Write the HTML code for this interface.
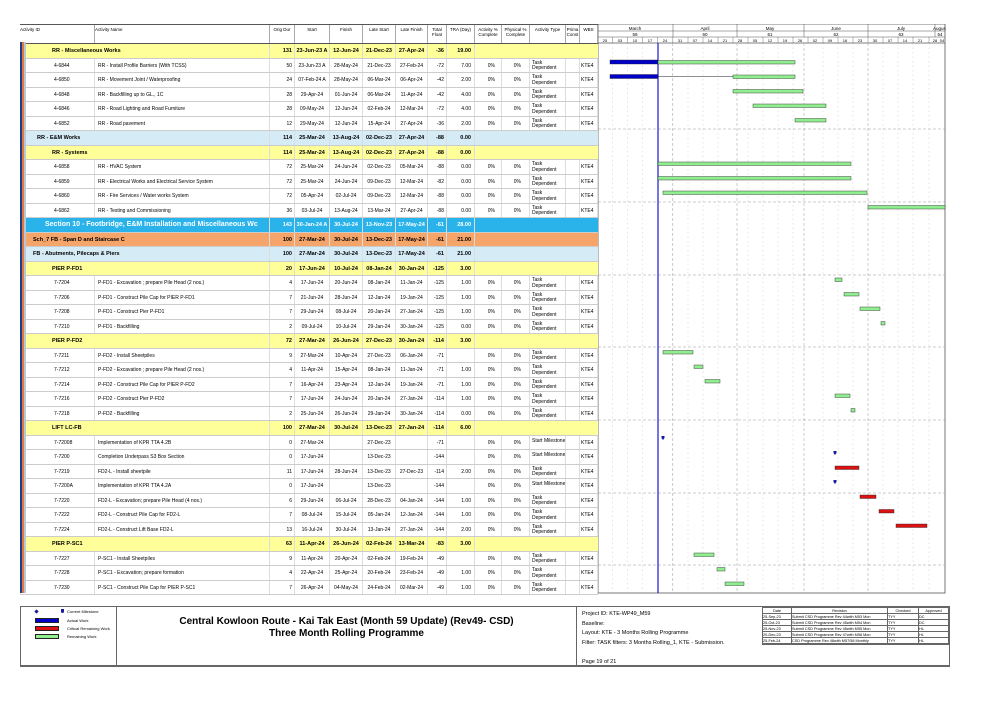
<!DOCTYPE html>
<html><head><meta charset="utf-8">
<style>
body{margin:0;background:#fff;width:1001px;height:708px;position:relative;overflow:hidden;font-family:"Liberation Sans",Arial,sans-serif;color:#000}
#tbl{position:absolute;left:20px;top:24px;width:578px}
.hd{height:18px;display:flex;border-top:1px solid #555;border-bottom:1px solid #555;background:#fff}
.hd span{font-size:4.5px;line-height:5px;padding-top:2px;text-align:center;border-right:1px solid #aaa;box-sizing:border-box;overflow:hidden}
.r{height:14.5px;display:flex;box-sizing:border-box;border-bottom:1px solid #ccc;font-size:5px;line-height:14px;white-space:nowrap}
.r span{box-sizing:border-box;overflow:hidden;border-right:1px solid #ddd}
.c1{width:75px;padding-left:34px}.c2{width:175px;padding-left:3px}.c3{width:25px;text-align:right;padding-right:2px}
.c4{width:35px;text-align:center}.c5{width:33px;text-align:center}.c6{width:33px;text-align:center}.c7{width:32px;text-align:center}
.c8{width:19px;text-align:right;padding-right:2px}.c9{width:28px;text-align:right;padding-right:3px}.c10{width:27px;text-align:right;padding-right:6px}
.c11{width:28px;text-align:right;padding-right:8px}.r .c12{width:36px;line-height:5.5px;padding-top:2px;padding-left:2px;white-space:normal}.r .c12.m{white-space:nowrap;line-height:10px;padding-top:0}.c13{width:14px}.c14{width:18px;padding-left:1px}
.g{font-weight:bold;font-size:5.5px}
.g .c1{padding-left:32px;width:250px;overflow:visible}
.y{background:#ffff99}.b{background:#d5ebf6}.o{background:#f6a56a}.s{background:#29b3ea;color:#fff}
.s .c1{font-size:7px}
#gan{position:absolute;left:598px;top:24px}
#foot{position:absolute;left:20px;top:606px;width:928px;height:58px;border:1px solid #666;border-bottom:2px solid #666}
.st{position:absolute;top:42px;width:2px;height:551px;z-index:5}
</style></head><body>
<div id="tbl">
<div class="hd"><span style="width:75px;text-align:left">Activity ID</span><span style="width:175px;text-align:left">Activity Name</span><span style="width:25px">Orig Dur</span><span style="width:35px">Start</span><span style="width:33px">Finish</span><span style="width:33px">Late Start</span><span style="width:32px">Late Finish</span><span style="width:19px">Total Float</span><span style="width:28px">TRA (Day)</span><span style="width:27px">Activity % Complete</span><span style="width:28px">Physical % Complete</span><span style="width:36px">Activity Type</span><span style="width:14px">Prima Const</span><span style="width:18px">WBS</span></div>

<div class="r g y"><span class="c1">RR - Miscellaneous Works</span><span class="c3">131</span><span class="c4">23-Jun-23 A</span><span class="c5">12-Jun-24</span><span class="c6">21-Dec-23</span><span class="c7">27-Apr-24</span><span class="c8">-36</span><span class="c9">19.00</span></div>
<div class="r"><span class="c1">4-6844</span><span class="c2">RR - Install Profile Barriers (With TCSS)</span><span class="c3">50</span><span class="c4">23-Jun-23 A</span><span class="c5">28-May-24</span><span class="c6">21-Dec-23</span><span class="c7">27-Feb-24</span><span class="c8">-72</span><span class="c9">7.00</span><span class="c10">0%</span><span class="c11">0%</span><span class="c12">Task Dependent</span><span class="c13"></span><span class="c14">KTE4</span></div>
<div class="r"><span class="c1">4-6850</span><span class="c2">RR - Movement Joint / Waterproofing</span><span class="c3">24</span><span class="c4">07-Feb-24 A</span><span class="c5">28-May-24</span><span class="c6">06-Mar-24</span><span class="c7">06-Apr-24</span><span class="c8">-42</span><span class="c9">2.00</span><span class="c10">0%</span><span class="c11">0%</span><span class="c12">Task Dependent</span><span class="c13"></span><span class="c14">KTE4</span></div>
<div class="r"><span class="c1">4-6848</span><span class="c2">RR - Backfilling up to GL., 1C</span><span class="c3">28</span><span class="c4">29-Apr-24</span><span class="c5">01-Jun-24</span><span class="c6">06-Mar-24</span><span class="c7">11-Apr-24</span><span class="c8">-42</span><span class="c9">4.00</span><span class="c10">0%</span><span class="c11">0%</span><span class="c12">Task Dependent</span><span class="c13"></span><span class="c14">KTE4</span></div>
<div class="r"><span class="c1">4-6846</span><span class="c2">RR - Road Lighting and Road Furniture</span><span class="c3">28</span><span class="c4">09-May-24</span><span class="c5">12-Jun-24</span><span class="c6">02-Feb-24</span><span class="c7">12-Mar-24</span><span class="c8">-72</span><span class="c9">4.00</span><span class="c10">0%</span><span class="c11">0%</span><span class="c12">Task Dependent</span><span class="c13"></span><span class="c14">KTE4</span></div>
<div class="r"><span class="c1">4-6852</span><span class="c2">RR - Road pavement</span><span class="c3">12</span><span class="c4">29-May-24</span><span class="c5">12-Jun-24</span><span class="c6">15-Apr-24</span><span class="c7">27-Apr-24</span><span class="c8">-36</span><span class="c9">2.00</span><span class="c10">0%</span><span class="c11">0%</span><span class="c12">Task Dependent</span><span class="c13"></span><span class="c14">KTE4</span></div>
<div class="r g b"><span class="c1" style="padding-left:17px">RR - E&amp;M Works</span><span class="c3">114</span><span class="c4">25-Mar-24</span><span class="c5">13-Aug-24</span><span class="c6">02-Dec-23</span><span class="c7">27-Apr-24</span><span class="c8">-88</span><span class="c9">0.00</span></div>
<div class="r g y"><span class="c1">RR - Systems</span><span class="c3">114</span><span class="c4">25-Mar-24</span><span class="c5">13-Aug-24</span><span class="c6">02-Dec-23</span><span class="c7">27-Apr-24</span><span class="c8">-88</span><span class="c9">0.00</span></div>
<div class="r"><span class="c1">4-6858</span><span class="c2">RR - HVAC System</span><span class="c3">72</span><span class="c4">25-Mar-24</span><span class="c5">24-Jun-24</span><span class="c6">02-Dec-23</span><span class="c7">05-Mar-24</span><span class="c8">-88</span><span class="c9">0.00</span><span class="c10">0%</span><span class="c11">0%</span><span class="c12">Task Dependent</span><span class="c13"></span><span class="c14">KTE4</span></div>
<div class="r"><span class="c1">4-6859</span><span class="c2">RR - Electrical Works and Electrical Service System</span><span class="c3">72</span><span class="c4">25-Mar-24</span><span class="c5">24-Jun-24</span><span class="c6">09-Dec-23</span><span class="c7">12-Mar-24</span><span class="c8">-82</span><span class="c9">0.00</span><span class="c10">0%</span><span class="c11">0%</span><span class="c12">Task Dependent</span><span class="c13"></span><span class="c14">KTE4</span></div>
<div class="r"><span class="c1">4-6860</span><span class="c2">RR - Fire Services / Water works System</span><span class="c3">72</span><span class="c4">05-Apr-24</span><span class="c5">02-Jul-24</span><span class="c6">09-Dec-23</span><span class="c7">12-Mar-24</span><span class="c8">-88</span><span class="c9">0.00</span><span class="c10">0%</span><span class="c11">0%</span><span class="c12">Task Dependent</span><span class="c13"></span><span class="c14">KTE4</span></div>
<div class="r"><span class="c1">4-6862</span><span class="c2">RR - Testing and Commissioning</span><span class="c3">36</span><span class="c4">03-Jul-24</span><span class="c5">13-Aug-24</span><span class="c6">13-Mar-24</span><span class="c7">27-Apr-24</span><span class="c8">-88</span><span class="c9">0.00</span><span class="c10">0%</span><span class="c11">0%</span><span class="c12">Task Dependent</span><span class="c13"></span><span class="c14">KTE4</span></div>
<div class="r g s"><span class="c1" style="padding-left:25px">Section 10 - Footbridge, E&amp;M Installation and Miscellaneous Wc</span><span class="c3">143</span><span class="c4">30-Jan-24 A</span><span class="c5">30-Jul-24</span><span class="c6">13-Nov-23</span><span class="c7">17-May-24</span><span class="c8">-61</span><span class="c9">28.00</span></div>
<div class="r g o"><span class="c1" style="padding-left:13px">Sch_7 FB - Span D and Staircase C</span><span class="c3">100</span><span class="c4">27-Mar-24</span><span class="c5">30-Jul-24</span><span class="c6">13-Dec-23</span><span class="c7">17-May-24</span><span class="c8">-61</span><span class="c9">21.00</span></div>
<div class="r g b"><span class="c1" style="padding-left:13px">FB - Abutments, Pilecaps &amp; Piers</span><span class="c3">100</span><span class="c4">27-Mar-24</span><span class="c5">30-Jul-24</span><span class="c6">13-Dec-23</span><span class="c7">17-May-24</span><span class="c8">-61</span><span class="c9">21.00</span></div>
<div class="r g y"><span class="c1">PIER P-FD1</span><span class="c3">20</span><span class="c4">17-Jun-24</span><span class="c5">10-Jul-24</span><span class="c6">08-Jan-24</span><span class="c7">30-Jan-24</span><span class="c8">-125</span><span class="c9">3.00</span></div>
<div class="r"><span class="c1">7-7204</span><span class="c2">P-FD1 - Excavation ; prepare Pile Head (2 nos.)</span><span class="c3">4</span><span class="c4">17-Jun-24</span><span class="c5">20-Jun-24</span><span class="c6">08-Jan-24</span><span class="c7">11-Jan-24</span><span class="c8">-125</span><span class="c9">1.00</span><span class="c10">0%</span><span class="c11">0%</span><span class="c12">Task Dependent</span><span class="c13"></span><span class="c14">KTE4</span></div>
<div class="r"><span class="c1">7-7206</span><span class="c2">P-FD1 - Construct Pile Cap for PIER P-FD1</span><span class="c3">7</span><span class="c4">21-Jun-24</span><span class="c5">28-Jun-24</span><span class="c6">12-Jan-24</span><span class="c7">19-Jan-24</span><span class="c8">-125</span><span class="c9">1.00</span><span class="c10">0%</span><span class="c11">0%</span><span class="c12">Task Dependent</span><span class="c13"></span><span class="c14">KTE4</span></div>
<div class="r"><span class="c1">7-7208</span><span class="c2">P-FD1 - Construct Pier P-FD1</span><span class="c3">7</span><span class="c4">29-Jun-24</span><span class="c5">08-Jul-24</span><span class="c6">20-Jan-24</span><span class="c7">27-Jan-24</span><span class="c8">-125</span><span class="c9">1.00</span><span class="c10">0%</span><span class="c11">0%</span><span class="c12">Task Dependent</span><span class="c13"></span><span class="c14">KTE4</span></div>
<div class="r"><span class="c1">7-7210</span><span class="c2">P-FD1 - Backfilling</span><span class="c3">2</span><span class="c4">09-Jul-24</span><span class="c5">10-Jul-24</span><span class="c6">29-Jan-24</span><span class="c7">30-Jan-24</span><span class="c8">-125</span><span class="c9">0.00</span><span class="c10">0%</span><span class="c11">0%</span><span class="c12">Task Dependent</span><span class="c13"></span><span class="c14">KTE4</span></div>
<div class="r g y"><span class="c1">PIER P-FD2</span><span class="c3">72</span><span class="c4">27-Mar-24</span><span class="c5">26-Jun-24</span><span class="c6">27-Dec-23</span><span class="c7">30-Jan-24</span><span class="c8">-114</span><span class="c9">3.00</span></div>
<div class="r"><span class="c1">7-7211</span><span class="c2">P-FD2 - Install Sheetpiles</span><span class="c3">9</span><span class="c4">27-Mar-24</span><span class="c5">10-Apr-24</span><span class="c6">27-Dec-23</span><span class="c7">06-Jan-24</span><span class="c8">-71</span><span class="c9"></span><span class="c10">0%</span><span class="c11">0%</span><span class="c12">Task Dependent</span><span class="c13"></span><span class="c14">KTE4</span></div>
<div class="r"><span class="c1">7-7212</span><span class="c2">P-FD2 - Excavation ; prepare Pile Head (2 nos.)</span><span class="c3">4</span><span class="c4">11-Apr-24</span><span class="c5">15-Apr-24</span><span class="c6">08-Jan-24</span><span class="c7">11-Jan-24</span><span class="c8">-71</span><span class="c9">1.00</span><span class="c10">0%</span><span class="c11">0%</span><span class="c12">Task Dependent</span><span class="c13"></span><span class="c14">KTE4</span></div>
<div class="r"><span class="c1">7-7214</span><span class="c2">P-FD2 - Construct Pile Cap for PIER P-FD2</span><span class="c3">7</span><span class="c4">16-Apr-24</span><span class="c5">23-Apr-24</span><span class="c6">12-Jan-24</span><span class="c7">19-Jan-24</span><span class="c8">-71</span><span class="c9">1.00</span><span class="c10">0%</span><span class="c11">0%</span><span class="c12">Task Dependent</span><span class="c13"></span><span class="c14">KTE4</span></div>
<div class="r"><span class="c1">7-7216</span><span class="c2">P-FD2 - Construct Pier P-FD2</span><span class="c3">7</span><span class="c4">17-Jun-24</span><span class="c5">24-Jun-24</span><span class="c6">20-Jan-24</span><span class="c7">27-Jan-24</span><span class="c8">-114</span><span class="c9">1.00</span><span class="c10">0%</span><span class="c11">0%</span><span class="c12">Task Dependent</span><span class="c13"></span><span class="c14">KTE4</span></div>
<div class="r"><span class="c1">7-7218</span><span class="c2">P-FD2 - Backfilling</span><span class="c3">2</span><span class="c4">25-Jun-24</span><span class="c5">26-Jun-24</span><span class="c6">29-Jan-24</span><span class="c7">30-Jan-24</span><span class="c8">-114</span><span class="c9">0.00</span><span class="c10">0%</span><span class="c11">0%</span><span class="c12">Task Dependent</span><span class="c13"></span><span class="c14">KTE4</span></div>
<div class="r g y"><span class="c1">LIFT LC-FB</span><span class="c3">100</span><span class="c4">27-Mar-24</span><span class="c5">30-Jul-24</span><span class="c6">13-Dec-23</span><span class="c7">27-Jan-24</span><span class="c8">-114</span><span class="c9">6.00</span></div>
<div class="r"><span class="c1">7-72008</span><span class="c2">Implementation of KPR TTA 4.2B</span><span class="c3">0</span><span class="c4">27-Mar-24</span><span class="c5"></span><span class="c6">27-Dec-23</span><span class="c7"></span><span class="c8">-71</span><span class="c9"></span><span class="c10">0%</span><span class="c11">0%</span><span class="c12 m">Start Milestone</span><span class="c13"></span><span class="c14">KTE4</span></div>
<div class="r"><span class="c1">7-7200</span><span class="c2">Completion Underpass S3 Box Section</span><span class="c3">0</span><span class="c4">17-Jun-24</span><span class="c5"></span><span class="c6">13-Dec-23</span><span class="c7"></span><span class="c8">-144</span><span class="c9"></span><span class="c10">0%</span><span class="c11">0%</span><span class="c12 m">Start Milestone</span><span class="c13"></span><span class="c14">KTE4</span></div>
<div class="r"><span class="c1">7-7219</span><span class="c2">FD2-L - Install sheetpile</span><span class="c3">11</span><span class="c4">17-Jun-24</span><span class="c5">28-Jun-24</span><span class="c6">13-Dec-23</span><span class="c7">27-Dec-23</span><span class="c8">-114</span><span class="c9">2.00</span><span class="c10">0%</span><span class="c11">0%</span><span class="c12">Task Dependent</span><span class="c13"></span><span class="c14">KTE4</span></div>
<div class="r"><span class="c1">7-7200A</span><span class="c2">Implementation of KPR TTA 4.2A</span><span class="c3">0</span><span class="c4">17-Jun-24</span><span class="c5"></span><span class="c6">13-Dec-23</span><span class="c7"></span><span class="c8">-144</span><span class="c9"></span><span class="c10">0%</span><span class="c11">0%</span><span class="c12 m">Start Milestone</span><span class="c13"></span><span class="c14">KTE4</span></div>
<div class="r"><span class="c1">7-7220</span><span class="c2">FD2-L - Excavation; prepare Pile Head (4 nos.)</span><span class="c3">6</span><span class="c4">29-Jun-24</span><span class="c5">06-Jul-24</span><span class="c6">28-Dec-23</span><span class="c7">04-Jan-24</span><span class="c8">-144</span><span class="c9">1.00</span><span class="c10">0%</span><span class="c11">0%</span><span class="c12">Task Dependent</span><span class="c13"></span><span class="c14">KTE4</span></div>
<div class="r"><span class="c1">7-7222</span><span class="c2">FD2-L - Construct Pile Cap for FD2-L</span><span class="c3">7</span><span class="c4">08-Jul-24</span><span class="c5">15-Jul-24</span><span class="c6">05-Jan-24</span><span class="c7">12-Jan-24</span><span class="c8">-144</span><span class="c9">1.00</span><span class="c10">0%</span><span class="c11">0%</span><span class="c12">Task Dependent</span><span class="c13"></span><span class="c14">KTE4</span></div>
<div class="r"><span class="c1">7-7224</span><span class="c2">FD2-L - Construct Lift Base FD2-L</span><span class="c3">13</span><span class="c4">16-Jul-24</span><span class="c5">30-Jul-24</span><span class="c6">13-Jan-24</span><span class="c7">27-Jan-24</span><span class="c8">-144</span><span class="c9">2.00</span><span class="c10">0%</span><span class="c11">0%</span><span class="c12">Task Dependent</span><span class="c13"></span><span class="c14">KTE4</span></div>
<div class="r g y"><span class="c1">PIER P-SC1</span><span class="c3">63</span><span class="c4">11-Apr-24</span><span class="c5">26-Jun-24</span><span class="c6">02-Feb-24</span><span class="c7">13-Mar-24</span><span class="c8">-83</span><span class="c9">3.00</span></div>
<div class="r"><span class="c1">7-7227</span><span class="c2">P-SC1 - Install Sheetpiles</span><span class="c3">9</span><span class="c4">11-Apr-24</span><span class="c5">20-Apr-24</span><span class="c6">02-Feb-24</span><span class="c7">19-Feb-24</span><span class="c8">-49</span><span class="c9"></span><span class="c10">0%</span><span class="c11">0%</span><span class="c12">Task Dependent</span><span class="c13"></span><span class="c14">KTE4</span></div>
<div class="r"><span class="c1">7-7228</span><span class="c2">P-SC1 - Excavation; prepare formation</span><span class="c3">4</span><span class="c4">22-Apr-24</span><span class="c5">25-Apr-24</span><span class="c6">20-Feb-24</span><span class="c7">23-Feb-24</span><span class="c8">-49</span><span class="c9">1.00</span><span class="c10">0%</span><span class="c11">0%</span><span class="c12">Task Dependent</span><span class="c13"></span><span class="c14">KTE4</span></div>
<div class="r"><span class="c1">7-7230</span><span class="c2">P-SC1 - Construct Pile Cap for PIER P-SC1</span><span class="c3">7</span><span class="c4">26-Apr-24</span><span class="c5">04-May-24</span><span class="c6">24-Feb-24</span><span class="c7">02-Mar-24</span><span class="c8">-49</span><span class="c9">1.00</span><span class="c10">0%</span><span class="c11">0%</span><span class="c12">Task Dependent</span><span class="c13"></span><span class="c14">KTE4</span></div>
</div>
<div class="st" style="left:20px;background:#1f3c88"></div>
<div class="st" style="left:22px;background:#e07a3c"></div>
<div class="st" style="left:24px;background:#b7c7d8"></div>

<svg id="gan" width="348" height="570" viewBox="598 24 348 570" font-family="Liberation Sans, sans-serif" font-size="4.5">
<rect x="598" y="24" width="347" height="569" fill="#fff" stroke="#555" stroke-width="0.8"/>
<line x1="598" y1="31" x2="945" y2="31" stroke="#555" stroke-width="0.5"/>
<line x1="598" y1="37" x2="945" y2="37" stroke="#555" stroke-width="0.5"/>
<line x1="598" y1="43" x2="945" y2="43" stroke="#555" stroke-width="0.7"/>
<g stroke="#555" stroke-width="0.5">
<line x1="673" y1="24" x2="673" y2="37"/><line x1="737" y1="24" x2="737" y2="37"/><line x1="804" y1="24" x2="804" y2="37"/><line x1="868" y1="24" x2="868" y2="37"/><line x1="935" y1="24" x2="935" y2="37"/>
</g>
<g text-anchor="middle">
<text x="635" y="30">March</text><text x="705" y="30">April</text><text x="770" y="30">May</text><text x="836" y="30">June</text><text x="901" y="30">July</text><text x="940" y="30">August</text>
<text x="635" y="36">59</text><text x="705" y="36">60</text><text x="770" y="36">61</text><text x="836" y="36">62</text><text x="901" y="36">63</text><text x="940" y="36">64</text>
</g>
<g stroke="#555" stroke-width="0.4">
<line x1="612.5" y1="37" x2="612.5" y2="43"/><line x1="627.6" y1="37" x2="627.6" y2="43"/><line x1="642.7" y1="37" x2="642.7" y2="43"/><line x1="657.7" y1="37" x2="657.7" y2="43"/><line x1="672.8" y1="37" x2="672.8" y2="43"/><line x1="688" y1="37" x2="688" y2="43"/><line x1="703" y1="37" x2="703" y2="43"/><line x1="718" y1="37" x2="718" y2="43"/><line x1="733" y1="37" x2="733" y2="43"/><line x1="748" y1="37" x2="748" y2="43"/><line x1="763" y1="37" x2="763" y2="43"/><line x1="778" y1="37" x2="778" y2="43"/><line x1="793" y1="37" x2="793" y2="43"/><line x1="808" y1="37" x2="808" y2="43"/><line x1="823" y1="37" x2="823" y2="43"/><line x1="838" y1="37" x2="838" y2="43"/><line x1="853" y1="37" x2="853" y2="43"/><line x1="868" y1="37" x2="868" y2="43"/><line x1="883" y1="37" x2="883" y2="43"/><line x1="898" y1="37" x2="898" y2="43"/><line x1="913" y1="37" x2="913" y2="43"/><line x1="929" y1="37" x2="929" y2="43"/>
</g>
<g text-anchor="middle" font-size="4">
<text x="605" y="42">25</text><text x="620" y="42">03</text><text x="635" y="42">10</text><text x="650" y="42">17</text><text x="665" y="42">24</text><text x="680" y="42">31</text><text x="695" y="42">07</text><text x="710" y="42">14</text><text x="725" y="42">21</text><text x="740" y="42">28</text><text x="755" y="42">05</text><text x="770" y="42">12</text><text x="785" y="42">19</text><text x="800" y="42">26</text><text x="815" y="42">02</text><text x="830" y="42">09</text><text x="845" y="42">16</text><text x="860" y="42">23</text><text x="875" y="42">30</text><text x="890" y="42">07</text><text x="905" y="42">14</text><text x="920" y="42">21</text><text x="935" y="42">28</text><text x="942" y="42">04</text>
</g>
<g stroke="#bbb" stroke-width="0.4" stroke-dasharray="1.5,3">
<line x1="612.5" y1="43" x2="612.5" y2="593"/><line x1="627.6" y1="43" x2="627.6" y2="593"/><line x1="642.7" y1="43" x2="642.7" y2="593"/><line x1="688" y1="43" x2="688" y2="593"/><line x1="703" y1="43" x2="703" y2="593"/><line x1="718" y1="43" x2="718" y2="593"/><line x1="748" y1="43" x2="748" y2="593"/><line x1="763" y1="43" x2="763" y2="593"/><line x1="778" y1="43" x2="778" y2="593"/><line x1="793" y1="43" x2="793" y2="593"/><line x1="823" y1="43" x2="823" y2="593"/><line x1="838" y1="43" x2="838" y2="593"/><line x1="853" y1="43" x2="853" y2="593"/><line x1="883" y1="43" x2="883" y2="593"/><line x1="898" y1="43" x2="898" y2="593"/><line x1="913" y1="43" x2="913" y2="593"/><line x1="929" y1="43" x2="929" y2="593"/>
</g>
<g stroke="#999" stroke-width="0.5" stroke-dasharray="3,2">
<line x1="672.8" y1="43" x2="672.8" y2="593"/><line x1="737" y1="43" x2="737" y2="593"/><line x1="804" y1="43" x2="804" y2="593"/><line x1="868" y1="43" x2="868" y2="593"/>
<line x1="598" y1="129" x2="945" y2="129"/><line x1="598" y1="202" x2="945" y2="202"/><line x1="598" y1="275" x2="945" y2="275"/><line x1="598" y1="347" x2="945" y2="347"/><line x1="598" y1="420" x2="945" y2="420"/><line x1="598" y1="493" x2="945" y2="493"/><line x1="598" y1="565" x2="945" y2="565"/>
</g>
<line x1="658" y1="43" x2="658" y2="593" stroke="#1a1ad0" stroke-width="1.2"/>
<g stroke="#222" stroke-width="0.4">
<rect x="610" y="60" width="48" height="4" fill="#0000c8"/>
<rect x="658" y="60.5" width="137" height="3.5" fill="#90ee90"/>
<rect x="610" y="74.5" width="48" height="4" fill="#0000c8"/>
<line x1="658" y1="76.5" x2="733" y2="76.5" stroke-width="0.6"/>
<rect x="733" y="75" width="62" height="3.5" fill="#90ee90"/>
<rect x="733" y="89.5" width="70" height="3.5" fill="#90ee90"/>
<rect x="753" y="104" width="73" height="3.5" fill="#90ee90"/>
<rect x="795" y="118.5" width="31" height="3.5" fill="#90ee90"/>
<rect x="658" y="162" width="193" height="3.5" fill="#90ee90"/>
<rect x="658" y="176.5" width="193" height="3.5" fill="#90ee90"/>
<rect x="663" y="191" width="204" height="3.5" fill="#90ee90"/>
<rect x="868" y="205.5" width="77" height="3.5" fill="#90ee90"/>
<rect x="835" y="278" width="7" height="3.5" fill="#90ee90"/>
<rect x="844" y="292.5" width="15" height="3.5" fill="#90ee90"/>
<rect x="860" y="307" width="20" height="3.5" fill="#90ee90"/>
<rect x="881" y="321.5" width="4" height="3.5" fill="#90ee90"/>
<rect x="663" y="350.5" width="30" height="3.5" fill="#90ee90"/>
<rect x="694" y="365" width="9" height="3.5" fill="#90ee90"/>
<rect x="705" y="379.5" width="15" height="3.5" fill="#90ee90"/>
<rect x="835" y="394" width="15" height="3.5" fill="#90ee90"/>
<rect x="851" y="408.5" width="4" height="3.5" fill="#90ee90"/>
<rect x="835" y="466" width="24" height="3.5" fill="#dd1111"/>
<rect x="860" y="495" width="16" height="3.5" fill="#dd1111"/>
<rect x="879" y="509.5" width="15" height="3.5" fill="#dd1111"/>
<rect x="896" y="524" width="31" height="3.5" fill="#dd1111"/>
<rect x="694" y="553" width="20" height="3.5" fill="#90ee90"/>
<rect x="717" y="567.5" width="8" height="3.5" fill="#90ee90"/>
<rect x="725" y="582" width="19" height="3.5" fill="#90ee90"/>
</g>
<g fill="#1a1aa0">
<path d="M661.5 436h3v2l-1.5 2l-1.5-2z"/>
<path d="M833.5 451h3v2l-1.5 2l-1.5-2z"/>
<path d="M833.5 480h3v2l-1.5 2l-1.5-2z"/>
</g>
</svg>

<div id="foot">
<div style="position:absolute;left:0;top:0;width:95px;height:58px;border-right:1px solid #666;font-size:4px">
<div style="position:absolute;left:14px;top:3px;width:3px;height:3px;background:#1a1aa0;transform:rotate(45deg)"></div>
<div style="position:absolute;left:40px;top:2px;width:3px;height:4px;background:#1a1aa0;border-radius:0 0 2px 2px"></div>
<div style="position:absolute;left:46px;top:2px">Current Milestone</div>
<div style="position:absolute;left:14px;top:11px;width:22px;height:3px;background:#0000c8;border:1px solid #222"></div><div style="position:absolute;left:46px;top:11px">Actual Work</div>
<div style="position:absolute;left:14px;top:19px;width:22px;height:3px;background:#dd1111;border:1px solid #222"></div><div style="position:absolute;left:46px;top:19px">Critical Remaining Work</div>
<div style="position:absolute;left:14px;top:27px;width:22px;height:3px;background:#90ee90;border:1px solid #222"></div><div style="position:absolute;left:46px;top:27px">Remaining Work</div>
</div>
<div style="position:absolute;left:96px;top:0;width:460px;height:58px;border-right:1px solid #666;text-align:center;font-weight:bold;font-size:10px;line-height:12px;padding-top:9px;box-sizing:border-box">Central Kowloon Route - Kai Tak East (Month 59 Update) (Rev49- CSD)<br>Three Month Rolling Programme</div>
<div style="position:absolute;left:561px;top:3px;width:180px;font-size:5.5px;line-height:9.5px">Project ID: KTE-WP49_M59<br>Baseline:<br>Layout: KTE - 3 Months Rolling Programme<br>Filter: TASK filters: 3 Months Rolling_1, KTE - Submission.<br><br>Page 19 of 21</div>
<table style="position:absolute;left:741px;top:0;width:187px;border-collapse:collapse;font-size:3.8px;border-left:1px solid #666" cellpadding="0">
<tr style="height:6px;text-align:center"><td style="border:0.5px solid #666;width:28px">Date</td><td style="border:0.5px solid #666;width:95px">Revision</td><td style="border:0.5px solid #666;width:30px">Checked</td><td style="border:0.5px solid #666">Approved</td></tr>
<tr style="height:6px"><td style="border:0.5px solid #666">25-Sep-23</td><td style="border:0.5px solid #666">Submit CSD Programme Rev 44with M53 Mon</td><td style="border:0.5px solid #666">TYY</td><td style="border:0.5px solid #666">DC</td></tr>
<tr style="height:6px"><td style="border:0.5px solid #666">25-Oct-23</td><td style="border:0.5px solid #666">Submit CSD Programme Rev 45with M54 Mon</td><td style="border:0.5px solid #666">TYY</td><td style="border:0.5px solid #666">DC</td></tr>
<tr style="height:6px"><td style="border:0.5px solid #666">25-Nov-23</td><td style="border:0.5px solid #666">Submit CSD Programme Rev 46with M55 Mon</td><td style="border:0.5px solid #666">TYY</td><td style="border:0.5px solid #666">HL</td></tr>
<tr style="height:6px"><td style="border:0.5px solid #666">20-Dec-23</td><td style="border:0.5px solid #666">Submit CSD Programme Rev 47with M56 Mon</td><td style="border:0.5px solid #666">TYY</td><td style="border:0.5px solid #666">HL</td></tr>
<tr style="height:6px"><td style="border:0.5px solid #666">25-Feb-24</td><td style="border:0.5px solid #666">CSD Programme Rev 48with M57/58 Monthly</td><td style="border:0.5px solid #666">TYY</td><td style="border:0.5px solid #666">HL</td></tr>
</table>
<div style="position:absolute;left:741px;top:37px;width:187px;border-top:1px solid #666"></div>
</div>
</body></html>
